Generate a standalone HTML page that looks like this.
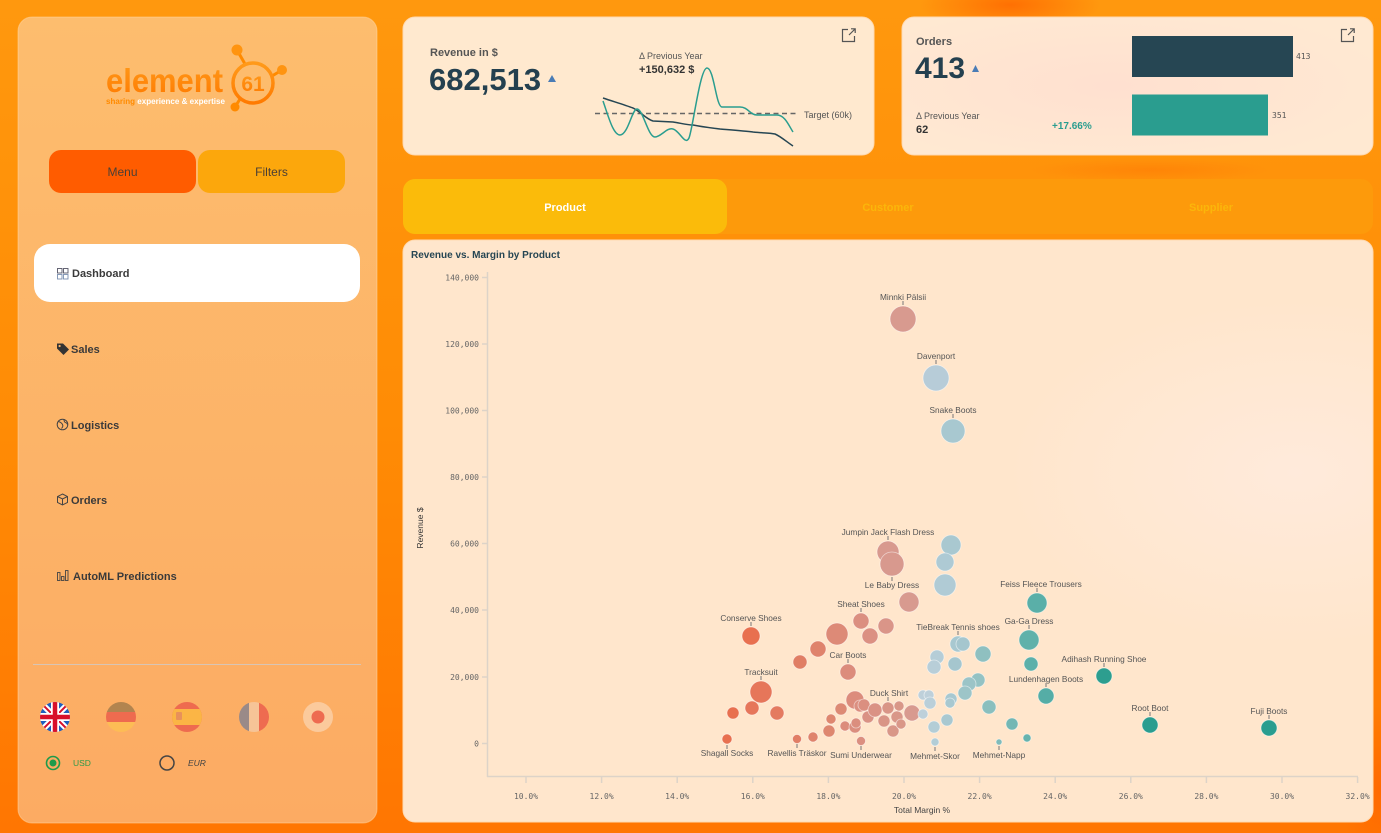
<!DOCTYPE html>
<html><head><meta charset="utf-8">
<style>
*{margin:0;padding:0;box-sizing:border-box}
html,body{width:1381px;height:833px;overflow:hidden;background:#ff8a04}
svg{display:block;font-family:"Liberation Sans",sans-serif}
.mono{font-family:"DejaVu Sans Mono","Liberation Mono",monospace}
</style></head>
<body>
<svg width="1381" height="833" viewBox="0 0 1381 833" xmlns="http://www.w3.org/2000/svg">
<defs>
<linearGradient id="bg" x1="0" y1="0" x2="0" y2="1">
<stop offset="0" stop-color="#ff980e"/><stop offset="0.5" stop-color="#ff8c05"/><stop offset="1" stop-color="#ff7602"/>
</linearGradient>
<radialGradient id="blob1" cx="0.5" cy="0.5" r="0.5"><stop offset="0" stop-color="#ff6600" stop-opacity="0.8"/><stop offset="1" stop-color="#ff6600" stop-opacity="0"/></radialGradient>
<linearGradient id="side" x1="0" y1="0" x2="0" y2="1">
<stop offset="0" stop-color="#fdbd6e"/><stop offset="1" stop-color="#fcab63"/>
</linearGradient>
<radialGradient id="ordbg" cx="0.45" cy="0.5" r="0.6"><stop offset="0" stop-color="#ffe0d0"/><stop offset="1" stop-color="#ffe9d2"/></radialGradient>
<radialGradient id="chartbg" cx="0.92" cy="0.4" r="0.3"><stop offset="0" stop-color="#ffeadb"/><stop offset="1" stop-color="#ffe6cc"/></radialGradient>
<linearGradient id="logo" x1="0" y1="0" x2="0" y2="1"><stop offset="0" stop-color="#ff9a1a"/><stop offset="1" stop-color="#ff7a00"/></linearGradient>
<clipPath id="f1"><circle cx="55" cy="717" r="15"/></clipPath>
<clipPath id="f2"><circle cx="121" cy="717" r="15"/></clipPath>
<clipPath id="f3"><circle cx="187" cy="717" r="15"/></clipPath>
<clipPath id="f4"><circle cx="254" cy="717" r="15"/></clipPath>
</defs>

<!-- background -->
<rect width="1381" height="833" fill="url(#bg)"/>
<ellipse cx="1010" cy="5" rx="90" ry="25" fill="url(#blob1)"/>
<ellipse cx="1150" cy="170" rx="120" ry="12" fill="url(#blob1)" opacity="0.4"/>
<ellipse cx="1380" cy="790" rx="40" ry="80" fill="url(#blob1)"/>

<!-- sidebar -->
<rect x="18" y="17" width="359" height="806" rx="14" fill="url(#side)" stroke="#ffd9a8" stroke-opacity="0.5"/>

<!-- logo -->
<g>
<line x1="245" y1="64" x2="237" y2="50" stroke="#ff8a00" stroke-width="3"/>
<line x1="272" y1="76" x2="282" y2="70" stroke="#ff8a00" stroke-width="3"/>
<line x1="240" y1="99" x2="235" y2="107" stroke="#ff8a00" stroke-width="3"/>
<circle cx="237" cy="50" r="5.5" fill="#ff9410"/>
<circle cx="282" cy="70" r="5" fill="#ff9410"/>
<circle cx="235" cy="107" r="4.5" fill="#ff8a00"/>
<circle cx="253" cy="83" r="20" fill="none" stroke="url(#logo)" stroke-width="3.5"/>
<text x="253" y="91" text-anchor="middle" font-size="21" font-weight="bold" fill="url(#logo)">61</text>
<text x="106" y="92" font-size="33" fill="url(#logo)" textLength="117" lengthAdjust="spacingAndGlyphs" font-weight="bold">element</text>
<text x="106" y="104" font-size="8" font-weight="bold" textLength="119" lengthAdjust="spacingAndGlyphs"><tspan fill="#ff8a00">sharing</tspan><tspan fill="#ffffff"> experience &amp; expertise</tspan></text>
</g>

<!-- menu buttons -->
<rect x="49" y="150" width="147" height="43" rx="12" fill="#ff5c00"/>
<rect x="198" y="150" width="147" height="43" rx="12" fill="#fca70c"/>
<text x="122.5" y="176" text-anchor="middle" font-size="12" fill="#4a3f35">Menu</text>
<text x="271.5" y="176" text-anchor="middle" font-size="12" fill="#4a3f35">Filters</text>

<!-- nav -->
<rect x="34" y="244" width="326" height="58" rx="16" fill="#ffffff"/>
<g fill="none" stroke="#556" stroke-width="0.9">
<rect x="57.5" y="268.5" width="4.5" height="4.5"/><rect x="63.5" y="268.5" width="4.5" height="4.5"/>
<rect x="57.5" y="274.5" width="4.5" height="4.5" stroke="#7a8fb0"/><rect x="63.5" y="274.5" width="4.5" height="4.5" stroke="#7a8fb0"/>
</g>
<text x="72" y="277" font-size="11" font-weight="bold" fill="#3a3a3a">Dashboard</text>

<path d="M57,343.5 h6 l6,6 l-5.5,5.5 l-6.5,-6.5 z" fill="#333"/><circle cx="59.6" cy="346" r="1.1" fill="#fcb66a"/>
<text x="71" y="353" font-size="11" font-weight="bold" fill="#3a3a3a">Sales</text>

<circle cx="62.5" cy="424.5" r="5.3" fill="none" stroke="#444" stroke-width="1"/>
<path d="M58.5,421.5 q3,1 4,3 q1,2 -1,4 M64,419.8 q0,2.5 2,3 q1.5,0.5 1.5,2" fill="none" stroke="#444" stroke-width="1"/>
<text x="71" y="429" font-size="11" font-weight="bold" fill="#3a3a3a">Logistics</text>

<path d="M62.5,494 l5,2.5 v6 l-5,2.5 l-5,-2.5 v-6 z M57.5,496.5 l5,2.5 l5,-2.5 M62.5,499 v6" fill="none" stroke="#444" stroke-width="1"/>
<text x="71" y="504" font-size="11" font-weight="bold" fill="#3a3a3a">Orders</text>

<g fill="none" stroke="#444" stroke-width="0.9">
<rect x="57.5" y="572.5" width="2.5" height="8"/><rect x="61.5" y="576.5" width="2.5" height="4"/><rect x="65.5" y="570.5" width="2.5" height="10"/>
</g>
<text x="73" y="580" font-size="11" font-weight="bold" fill="#3a3a3a">AutoML Predictions</text>

<rect x="33" y="664" width="328" height="1" fill="#d8c5b5"/>

<!-- flags -->
<g clip-path="url(#f1)">
<rect x="40" y="702" width="30" height="30" fill="#1f5fbf"/>
<path d="M40,702 L70,732 M70,702 L40,732" stroke="#fff" stroke-width="6"/>
<path d="M40,702 L70,732 M70,702 L40,732" stroke="#d8102a" stroke-width="2"/>
<path d="M55,702 V732 M40,717 H70" stroke="#fff" stroke-width="8"/>
<path d="M55,702 V732 M40,717 H70" stroke="#d8102a" stroke-width="4.5"/>
</g>
<g clip-path="url(#f2)">
<rect x="106" y="702" width="30" height="10" fill="#b2844f"/>
<rect x="106" y="712" width="30" height="10" fill="#ee6b4f"/>
<rect x="106" y="722" width="30" height="10" fill="#fdbc55"/>
</g>
<g clip-path="url(#f3)">
<rect x="172" y="702" width="30" height="30" fill="#ee6b4f"/>
<rect x="172" y="709" width="30" height="16" fill="#fbb545"/>
<rect x="176" y="712" width="6" height="8" rx="1" fill="#e8915a"/>
</g>
<g clip-path="url(#f4)">
<rect x="239" y="702" width="10" height="30" fill="#9a8a88"/>
<rect x="249" y="702" width="10" height="30" fill="#f6c497"/>
<rect x="259" y="702" width="10" height="30" fill="#ee6b50"/>
</g>
<circle cx="318" cy="717" r="15" fill="#fbca9c"/>
<circle cx="318" cy="717" r="6.5" fill="#ee6b50"/>

<!-- currency radio -->
<circle cx="53" cy="763" r="6.5" fill="none" stroke="#1e9a4a" stroke-width="1.6"/>
<circle cx="53" cy="763" r="3.5" fill="#1e9a4a"/>
<text x="73" y="766" font-size="8.5" fill="#2e9a4a">USD</text>
<circle cx="167" cy="763" r="7" fill="none" stroke="#444" stroke-width="1.5"/>
<text x="188" y="766" font-size="8.5" font-style="italic" fill="#444">EUR</text>

<!-- revenue card -->
<rect x="403" y="17" width="471" height="138" rx="12" fill="#ffe9cf" stroke="#ffd9b0" stroke-width="1"/>
<text x="430" y="56" font-size="11" font-weight="bold" fill="#555">Revenue in $</text>
<text x="429" y="90" font-size="31" font-weight="bold" fill="#24404f">682,513</text>
<path d="M548,82 L552,75 L556,82 z" fill="#4a7cb5"/>
<text x="639" y="59" font-size="9" fill="#555">Δ Previous Year</text>
<text x="639" y="73" font-size="11" font-weight="bold" fill="#333">+150,632 $</text>
<line x1="595" y1="113.5" x2="799" y2="113.5" stroke="#666" stroke-width="1.6" stroke-dasharray="5,3.5"/>
<text x="804" y="118" font-size="9" fill="#555">Target (60k)</text>
<path d="M603,98 C615,102 625,105 633,108 C641,112 646,119 653,121 L673,122 C680,123 687,125 693,125 C703,127 712,128 720,129 C732,130 745,131 753,132 C763,133 770,133 775,134 C780,136 787,142 793,146" fill="none" stroke="#264653" stroke-width="1.5"/>
<path d="M603,101 C608,115 613,135 620,135 C628,135 632,109 637,109 C643,109 648,137 655,137 C661,137 667,127 673,129 C680,131 685,146 689,138 C693,128 700,68 707,68 C714,68 716,107 722,107 L740,107 C748,107 750,115 757,115 L777,115 C785,115 789,126 793,132" fill="none" stroke="#2a9d8f" stroke-width="1.5"/>
<g fill="none" stroke="#555" stroke-width="1.2">
<path d="M848,29.5 H842.5 V41.5 H854.5 V36"/><path d="M849,35 L855,29 M851,28.8 H855.2 V33"/>
</g>

<!-- orders card -->
<rect x="902" y="17" width="471" height="138" rx="12" fill="url(#ordbg)" stroke="#ffd9b0" stroke-width="1"/>
<text x="916" y="45" font-size="11" font-weight="bold" fill="#555">Orders</text>
<text x="915" y="78" font-size="30" font-weight="bold" fill="#24404f">413</text>
<path d="M972,72 L975.5,65 L979,72 z" fill="#4a7cb5"/>
<text x="916" y="119" font-size="9" fill="#555">Δ Previous Year</text>
<text x="916" y="133" font-size="11" font-weight="bold" fill="#333">62</text>
<text x="1052" y="129" font-size="10" font-weight="bold" fill="#2a9d8f">+17.66%</text>
<rect x="1132" y="36" width="161" height="41" fill="#264653"/>
<rect x="1132" y="94.5" width="136" height="41" fill="#2a9d8f"/>
<text x="1296" y="59" font-size="8" class="mono" fill="#555">413</text>
<text x="1272" y="118" font-size="8" class="mono" fill="#555">351</text>
<g fill="none" stroke="#555" stroke-width="1.2">
<path d="M1347,29.5 H1341.5 V41.5 H1353.5 V36"/><path d="M1348,35 L1354,29 M1350,28.8 H1354.2 V33"/>
</g>

<!-- tabs -->
<rect x="403" y="179" width="970" height="55" rx="12" fill="#fd9a0b"/>
<rect x="403" y="179" width="324" height="55" rx="12" fill="#fbbb0a"/>
<text x="565" y="211" text-anchor="middle" font-size="11" font-weight="bold" fill="#ffffff">Product</text>
<text x="888" y="211" text-anchor="middle" font-size="11" font-weight="bold" fill="#fbb60a">Customer</text>
<text x="1211" y="211" text-anchor="middle" font-size="11" font-weight="bold" fill="#fbb60a">Supplier</text>

<!-- chart card -->
<rect x="403" y="240" width="970" height="582" rx="12" fill="url(#chartbg)" stroke="#ffd9b0" stroke-width="1"/>
<text x="411" y="258" font-size="10" font-weight="bold" fill="#264653">Revenue vs. Margin by Product</text>

<!-- axes -->
<g stroke="#ddd3c8" stroke-width="1.5" fill="none">
<line x1="487.5" y1="272" x2="487.5" y2="777"/>
<line x1="487" y1="776.5" x2="1358" y2="776.5"/>
<path d="M482,277.5 H487 M482,344 H487 M482,410.5 H487 M482,477 H487 M482,543.5 H487 M482,610 H487 M482,677 H487 M482,743.5 H487"/>
<path d="M526,777 V783 M601.6,777 V783 M677.2,777 V783 M752.8,777 V783 M828.4,777 V783 M904,777 V783 M979.6,777 V783 M1055.2,777 V783 M1130.8,777 V783 M1206.4,777 V783 M1282,777 V783 M1357.6,777 V783"/>
</g>
<g class="mono" font-size="8" fill="#666" text-anchor="end">
<text x="479" y="280.5">140,000</text>
<text x="479" y="347">120,000</text>
<text x="479" y="413.5">100,000</text>
<text x="479" y="480">80,000</text>
<text x="479" y="546.5">60,000</text>
<text x="479" y="613">40,000</text>
<text x="479" y="680">20,000</text>
<text x="479" y="746.5">0</text>
</g>
<g class="mono" font-size="8" fill="#666" text-anchor="middle">
<text x="526" y="799">10.0%</text>
<text x="601.6" y="799">12.0%</text>
<text x="677.2" y="799">14.0%</text>
<text x="752.8" y="799">16.0%</text>
<text x="828.4" y="799">18.0%</text>
<text x="904" y="799">20.0%</text>
<text x="979.6" y="799">22.0%</text>
<text x="1055.2" y="799">24.0%</text>
<text x="1130.8" y="799">26.0%</text>
<text x="1206.4" y="799">28.0%</text>
<text x="1282" y="799">30.0%</text>
<text x="1357.6" y="799">32.0%</text>
</g>
<text x="922" y="813" text-anchor="middle" font-size="8.5" fill="#444">Total Margin %</text>
<text transform="translate(423,528) rotate(-90)" text-anchor="middle" font-size="8.5" fill="#333">Revenue $</text>

<!-- bubbles -->
<g stroke="#ffffff" stroke-opacity="0.55" stroke-width="0.8">
<circle cx="903" cy="319" r="13" fill="#d89a8f"/>
<circle cx="936" cy="378" r="13" fill="#b7ccd8"/>
<circle cx="953" cy="431" r="12" fill="#a8c8d0"/>
<circle cx="951" cy="545" r="10" fill="#a9c8d0"/>
<circle cx="945" cy="562" r="9" fill="#aecad4"/>
<circle cx="945" cy="585" r="11" fill="#b0cbd5"/>
<circle cx="888" cy="552" r="11" fill="#d8998e"/>
<circle cx="892" cy="564" r="12" fill="#d8998e"/>
<circle cx="909" cy="602" r="10" fill="#d89a8f"/>
<circle cx="837" cy="634" r="11" fill="#dd8a77"/>
<circle cx="861" cy="621" r="8" fill="#db8f80"/>
<circle cx="886" cy="626" r="8" fill="#da9588"/>
<circle cx="870" cy="636" r="8" fill="#db9082"/>
<circle cx="818" cy="649" r="8" fill="#df836c"/>
<circle cx="800" cy="662" r="7" fill="#e07e64"/>
<circle cx="848" cy="672" r="8" fill="#dc8c7c"/>
<circle cx="751" cy="636" r="9" fill="#e8704f"/>
<circle cx="761" cy="692" r="11" fill="#e6765a"/>
<circle cx="752" cy="708" r="7" fill="#e6765a"/>
<circle cx="733" cy="713" r="6" fill="#e8704f"/>
<circle cx="777" cy="713" r="7" fill="#e47a60"/>
<circle cx="727" cy="739" r="5" fill="#e8704f"/>
<circle cx="797" cy="739" r="4.5" fill="#e17e66"/>
<circle cx="813" cy="737" r="5" fill="#df836c"/>
<circle cx="829" cy="731" r="6" fill="#de876f"/>
<circle cx="831" cy="719" r="5" fill="#de876f"/>
<circle cx="841" cy="709" r="6" fill="#dd8a74"/>
<circle cx="855" cy="700" r="9" fill="#dc8c7c"/>
<circle cx="845" cy="726" r="5" fill="#dc8c7c"/>
<circle cx="855" cy="727" r="6" fill="#db8e7e"/>
<circle cx="856" cy="723" r="5" fill="#db8e7e"/>
<circle cx="861" cy="741" r="4.5" fill="#db8f80"/>
<circle cx="860" cy="706" r="6" fill="#db8f80"/>
<circle cx="864" cy="705" r="6" fill="#db8f80"/>
<circle cx="868" cy="717" r="6" fill="#da9284"/>
<circle cx="875" cy="710" r="7" fill="#da9284"/>
<circle cx="884" cy="721" r="6" fill="#d99586"/>
<circle cx="888" cy="708" r="6" fill="#d99586"/>
<circle cx="893" cy="731" r="6" fill="#d99788"/>
<circle cx="897" cy="717" r="6" fill="#d99788"/>
<circle cx="899" cy="706" r="5" fill="#d99788"/>
<circle cx="901" cy="724" r="5" fill="#d99788"/>
<circle cx="912" cy="713" r="8" fill="#d89a8f"/>
<circle cx="923" cy="695" r="5" fill="#bed0da"/>
<circle cx="929" cy="695" r="5" fill="#bed0da"/>
<circle cx="930" cy="703" r="6" fill="#bacfd9"/>
<circle cx="923" cy="714" r="5" fill="#bed0da"/>
<circle cx="934" cy="727" r="6" fill="#b3cdd6"/>
<circle cx="935" cy="742" r="4" fill="#b3cdd6"/>
<circle cx="937" cy="657" r="7" fill="#b5cdd7"/>
<circle cx="934" cy="667" r="7" fill="#b8ced8"/>
<circle cx="955" cy="664" r="7" fill="#a5c6ce"/>
<circle cx="958" cy="644" r="8" fill="#a8c8d0"/>
<circle cx="963" cy="644" r="7" fill="#a5c6ce"/>
<circle cx="983" cy="654" r="8" fill="#8fc0c0"/>
<circle cx="978" cy="680" r="7" fill="#94c2c3"/>
<circle cx="969" cy="684" r="7" fill="#9bc4c7"/>
<circle cx="965" cy="693" r="7" fill="#9dc5c8"/>
<circle cx="951" cy="699" r="6" fill="#a8c8d0"/>
<circle cx="950" cy="703" r="5" fill="#a8c8d0"/>
<circle cx="947" cy="720" r="6" fill="#a9c8d0"/>
<circle cx="989" cy="707" r="7" fill="#8abfbe"/>
<circle cx="1012" cy="724" r="6" fill="#74b7b4"/>
<circle cx="1027" cy="738" r="4" fill="#66b3ae"/>
<circle cx="999" cy="742" r="3" fill="#80bbba"/>
<circle cx="1037" cy="603" r="10" fill="#5aafa8"/>
<circle cx="1029" cy="640" r="10" fill="#5fb1aa"/>
<circle cx="1031" cy="664" r="7" fill="#5cb0aa"/>
<circle cx="1046" cy="696" r="8" fill="#55ada6"/>
<circle cx="1104" cy="676" r="8" fill="#2d9e8f"/>
<circle cx="1150" cy="725" r="8" fill="#2a9d8f"/>
<circle cx="1269" cy="728" r="8" fill="#2a9d8f"/>
</g>

<!-- label ticks -->
<g stroke="#777" stroke-width="1">
<path d="M903,301 V305 M936,360 V364 M953,414 V418 M888,536 V540 M892,577 V581 M861,608 V612 M751,622 V626 M848,659 V663 M761,676 V680 M888,697 V701 M958,631 V635 M1037,588 V592 M1029,625 V629 M1046,683 V687 M1104,663 V667 M1150,712 V716 M1269,715 V719"/>
<path d="M727,745 V749 M797,744 V748 M861,746 V750 M935,747 V751 M999,746 V750"/>
</g>

<!-- labels -->
<g font-size="8.3" fill="#555" text-anchor="middle">
<text x="903" y="300">Minnki Pälsii</text>
<text x="936" y="359">Davenport</text>
<text x="953" y="413">Snake Boots</text>
<text x="888" y="535">Jumpin Jack Flash Dress</text>
<text x="892" y="588">Le Baby Dress</text>
<text x="861" y="607">Sheat Shoes</text>
<text x="751" y="621">Conserve Shoes</text>
<text x="848" y="658">Car Boots</text>
<text x="761" y="675">Tracksuit</text>
<text x="889" y="696">Duck Shirt</text>
<text x="958" y="630">TieBreak Tennis shoes</text>
<text x="1041" y="587">Feiss Fleece Trousers</text>
<text x="1029" y="624">Ga-Ga Dress</text>
<text x="1046" y="682">Lundenhagen Boots</text>
<text x="1104" y="662">Adihash Running Shoe</text>
<text x="1150" y="711">Root Boot</text>
<text x="1269" y="714">Fuji Boots</text>
<text x="727" y="756">Shagall Socks</text>
<text x="797" y="756">Ravellis Träskor</text>
<text x="861" y="758">Sumi Underwear</text>
<text x="935" y="759">Mehmet-Skor</text>
<text x="999" y="758">Mehmet-Napp</text>
</g>
</svg>
</body></html>
